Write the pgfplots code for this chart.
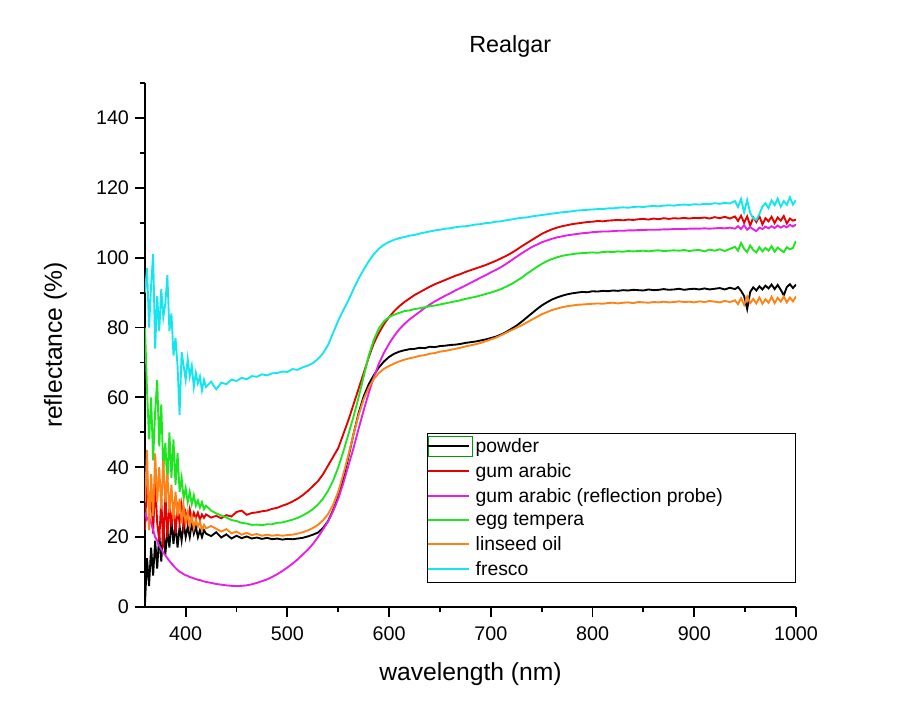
\documentclass[border=0pt]{standalone}
\usepackage{fontspec}
\setmainfont{Liberation Sans}
\usepackage{pgfplots}
\usepackage{pgfplotstable}
\pgfplotsset{compat=1.18}
\definecolor{cP}{HTML}{000000}
\definecolor{cR}{HTML}{E60000}
\definecolor{cM}{HTML}{E61EE6}
\definecolor{cE}{HTML}{1EE61E}
\definecolor{cL}{HTML}{FF8214}
\definecolor{cF}{HTML}{14E6F0}
\pgfplotsset{
  mylegline/.style={legend image code/.code={\draw[##1, line width=1.4pt] (0pt,0pt) -- (31pt,0pt);}},
  powderleg/.style={legend image code/.code={\draw[draw=green!60!black, line width=0.6pt] (0.3pt,-7.8pt) rectangle (33.5pt,7.8pt); \draw[##1, line width=1.4pt] (0pt,0pt) -- (31pt,0pt);}},
}
\pgfplotstableread{
x P R M E L F
360 1 22 27 80 30 90
362 14 38 25 62 45 97
364 6 28 26 48 22 80
366 17 34 24 60 38 92
368 9 21 22 42 26 101
370 19 36 20 56 44 74
372 11 24 19 65 30 89
374 21 19 17.5 46 40 79
376 13 31 16.5 58 28 91
378 23 17 15.5 39 42 83
380 15 33 14.8 47 30 87
382 22 20 14 35 38 95
384 17 29 13.2 50 27 79
386 25 23 12.5 37 35 84
388 18 30 11.8 48 25 72
390 24 21 11.2 35 33 77
392 17 28 10.6 44 26 69
394 23 24 10.1 33 31 55
396 19 29 9.8 37 24 73
398 24 23 9.4 31 29 69
400 20 27 9.1 34 24 65
402 23 24.5 8.9 30 27 71
404 20 28 8.6 33 23 66
406 24 25 8.4 29.5 26 69
408 21 27 8.2 32 22.5 63
410 23 25.5 8 29 25 67
412 20 27 7.8 30.5 23 64
414 22 25 7.7 28.5 24.5 66
416 20 26.5 7.5 30 22 62
418 22 25.5 7.3 28 23.5 65
420 21 26.5 7.2 29 22.5 63
425 20.3 25.6 6.9 27.6 23.2 64.5
430 21.4 26.1 6.6 26.8 22.4 62.3
435 19.9 25.4 6.4 26.2 21.6 64.2
440 20.8 26.3 6.2 25.6 22.3 63.8
445 19.6 25.9 6.05 24.9 21.1 65.1
450 20.4 27.2 6.0 24.6 21.6 64.7
455 19.7 27.6 6.05 24.1 20.7 65.6
460 20.2 26.4 6.2 23.9 21.2 65.2
465 19.6 26.9 6.5 23.5 20.6 66.1
470 19.9 27.1 6.9 23.6 20.9 65.9
475 19.5 27.4 7.4 23.4 20.4 66.6
480 19.8 27.6 7.9 23.7 20.7 66.3
485 19.4 28.1 8.6 23.7 20.4 66.9
490 19.6 28.4 9.4 24.1 20.6 67.0
495 19.3 29.0 10.3 24.2 20.4 67.4
500 19.5 29.5 11.3 24.6 20.6 67.3
505 19.4 30.2 12.4 25.0 20.7 68.1
510 19.6 31.0 13.6 25.5 21.0 67.9
515 19.8 32.0 15.0 26.2 21.4 68.6
520 20.2 33.2 16.4 27.0 21.9 69.1
525 20.7 34.6 18.0 28.0 22.6 69.8
530 21.3 36.0 20.0 29.3 23.5 71.0
535 22.6 38.0 22.2 31.0 24.8 72.6
540 24.6 40.5 24.5 33.3 26.6 75.0
545 27.8 43.0 27.5 36.2 29.3 78.5
550 31.5 45.5 31.0 40.0 33.0 82.0
555 37.0 49.5 35.5 44.5 38.0 85.0
560 43.0 53.5 40.5 49.5 43.5 87.8
565 49.5 58.0 45.5 54.5 49.5 91.0
570 55.5 62.5 51.0 60.0 55.0 94.0
575 60.3 67.0 56.3 66.0 59.5 96.6
580 63.8 71.5 61.3 72.0 62.8 99.0
585 66.4 75.5 65.8 76.5 65.3 101.0
590 68.6 78.5 69.7 79.8 67.0 102.6
595 70.3 81.0 72.8 81.8 68.2 103.7
600 71.6 83.0 75.4 83.0 69.0 104.5
605 72.5 84.7 77.6 83.7 69.7 105.1
610 73.1 86.1 79.5 84.2 70.3 105.6
615 73.5 87.3 81.0 84.7 70.8 105.9
620 73.8 88.3 82.3 84.9 71.2 106.3
625 73.9 89.3 83.4 85.3 71.5 106.5
630 74.2 90.1 84.5 85.5 71.9 106.9
635 74.1 90.9 85.6 85.8 72.1 107.2
640 74.5 91.7 86.6 86.1 72.5 107.5
645 74.4 92.4 87.5 86.3 72.7 107.8
650 74.7 93.0 88.3 86.6 73.1 108.0
655 74.8 93.6 89.1 86.9 73.3 108.3
660 75.0 94.2 89.8 87.2 73.6 108.4
665 75.1 94.8 90.6 87.5 73.9 108.7
670 75.3 95.3 91.3 87.8 74.2 108.9
675 75.6 95.9 92.0 88.2 74.6 109.0
680 75.8 96.4 92.8 88.5 74.9 109.2
685 76.0 96.9 93.5 88.8 75.2 109.5
690 76.3 97.4 94.3 89.2 75.6 109.6
695 76.6 97.9 95.0 89.6 76.1 109.9
700 77.0 98.5 95.8 90.0 76.6 110.0
705 77.4 99.1 96.5 90.5 77.1 110.3
710 78.0 99.8 97.3 91.0 77.8 110.4
715 78.7 100.5 98.2 91.7 78.5 110.7
720 79.6 101.3 99.2 92.4 79.2 110.9
725 80.5 102.2 100.2 93.3 79.9 111.2
730 81.6 103.2 101.2 94.2 80.6 111.4
735 82.8 104.1 102.1 95.3 81.4 111.5
740 84.0 105.0 103.0 96.3 82.2 111.8
745 85.2 105.9 103.7 97.3 83.0 112.0
750 86.3 106.8 104.4 98.2 83.8 112.2
755 87.2 107.5 104.9 99.0 84.4 112.4
760 88.0 108.1 105.4 99.6 85.0 112.6
765 88.6 108.6 105.8 100.1 85.4 112.8
770 89.1 109.0 106.1 100.5 85.8 113.0
775 89.5 109.3 106.4 100.8 86.1 113.1
780 89.8 109.6 106.6 101.0 86.3 113.3
785 90.0 109.8 106.8 101.2 86.5 113.5
790 90.2 110.0 107.0 101.3 86.6 113.6
795 90.1 110.2 107.1 101.4 86.7 113.7
800 90.4 110.3 107.3 101.5 86.8 113.8
805 90.3 110.5 107.4 101.4 86.9 113.9
810 90.5 110.4 107.5 101.6 86.8 113.9
815 90.4 110.6 107.5 101.7 87.0 114.1
820 90.6 110.7 107.6 101.6 87.1 114.1
825 90.5 110.8 107.7 101.8 86.9 114.3
830 90.7 110.7 107.7 101.7 87.1 114.4
835 90.6 110.9 107.8 101.9 87.2 114.3
840 90.8 110.8 107.8 101.8 87.0 114.5
845 90.7 111.0 107.9 101.9 87.3 114.6
850 90.6 111.1 107.9 102.0 87.2 114.5
855 90.9 110.9 108.0 101.8 87.1 114.7
860 90.7 111.2 108.0 102.0 87.3 114.8
865 90.8 111.0 108.0 102.1 87.2 114.7
870 91.0 111.3 108.1 101.9 87.4 114.9
875 90.8 111.1 108.1 102.0 87.2 115.0
880 90.9 111.3 108.2 102.1 87.3 114.9
885 91.1 111.2 108.2 102.0 87.5 115.1
890 90.8 111.4 108.2 102.2 87.3 115.2
895 91.0 111.2 108.3 101.9 87.4 115.1
900 91.1 111.4 108.3 102.1 87.2 115.3
905 90.9 111.3 108.3 102.2 87.5 115.2
910 91.2 111.5 108.4 101.8 87.3 115.4
915 90.9 111.2 108.3 102.3 87.6 115.3
920 91.1 111.6 108.4 102.0 87.4 115.6
925 91.3 111.3 108.5 102.4 87.2 115.4
930 90.9 111.7 108.4 101.9 87.6 115.7
935 91.4 111.2 108.6 102.5 87.3 115.5
940 91.0 111.8 108.3 103.1 87.8 116.2
943 91.6 110.5 109.0 102.0 86.7 114.5
946 90.5 112.0 108.2 104.2 88.4 116.8
949 89.0 110.0 109.3 102.5 86.5 113.0
952 85.3 111.8 108.0 101.6 88.9 116.5
955 90.2 109.2 108.8 103.5 87.0 112.8
958 91.5 111.5 108.1 102.2 88.2 111.2
961 90.6 110.2 107.6 101.5 86.9 110.8
964 91.8 111.9 108.6 103.0 88.6 112.5
967 90.9 109.5 108.2 101.8 86.8 114.6
970 92.0 111.3 108.9 102.8 88.1 115.6
973 91.2 110.4 108.4 102.0 87.1 114.2
976 92.3 111.7 109.0 103.3 88.8 116.4
979 91.0 109.9 108.5 101.7 87.0 115.0
982 92.2 111.5 109.2 102.9 88.5 116.9
985 90.8 110.6 108.6 102.2 87.4 114.6
988 89.2 111.9 109.1 101.6 88.9 116.2
991 91.6 109.8 108.7 103.0 87.2 115.1
994 92.4 111.2 109.4 102.4 88.6 117.3
997 91.3 110.6 108.9 102.8 87.5 115.2
1000 92.3 110.9 109.5 104.8 88.9 116.5
}\data
\begin{document}
\begin{tikzpicture}
\begin{axis}[
  at={(0,0)}, anchor=south west,
  scale only axis, width=488.25pt, height=393pt,
  xmin=360, xmax=1000, ymin=0, ymax=150,
  axis x line*=bottom, axis y line*=left,
  axis line style={line width=1.4pt, black},
  every tick/.style={line width=1.4pt, black},
  tick align=outside,
  major tick length=7.5pt, minor tick length=4pt,
  xtick={400,500,...,1000}, minor xtick={450,550,...,950},
  ytick={0,20,...,140}, minor ytick={10,30,...,150},
  /pgf/number format/assume math mode=true,
  /pgf/number format/1000 sep={},
  ticklabel style={font=\fontsize{14.8}{17}\selectfont},
  xticklabel style={yshift=-3.5pt},
  yticklabel style={xshift=-1pt},
  xlabel={wavelength (nm)}, ylabel={reflectance (\%)},
  label style={font=\fontsize{18.5}{22}\selectfont},
  xlabel style={at={([yshift=-54.75pt]axis description cs:0.5,0)}, anchor=base},
  ylabel style={at={([xshift=-62.25pt]axis description cs:0,0.5)}, anchor=base},
  title={Realgar},
  title style={at={([yshift=16.5pt]axis description cs:0.561,1)}, anchor=base, font=\fontsize{17.5}{21}\selectfont},
  mylegline,
  legend cell align=left,
  legend style={at={(axis cs:1000,49.9)}, anchor=north east, draw=black,
    font=\fontsize{14.5}{17}\selectfont, inner xsep=0pt, inner ysep=2pt, row sep=2.6pt, column sep=0pt},
  every axis plot/.append style={line width=1.4pt},
]
\addplot[cP, powderleg] table[x=x, y=P] {\data};
\addlegendentry{\makebox[238pt][l]{powder}}
\addplot[cR] table[x=x, y=R] {\data};
\addlegendentry{gum arabic}
\addplot[cM] table[x=x, y=M] {\data};
\addlegendentry{gum arabic (reflection probe)}
\addplot[cE] table[x=x, y=E] {\data};
\addlegendentry{egg tempera}
\addplot[cL] table[x=x, y=L] {\data};
\addlegendentry{linseed oil}
\addplot[cF] table[x=x, y=F] {\data};
\addlegendentry{fresco}
\end{axis}
\pgfresetboundingbox
\path (-108.75pt,-86.25pt) rectangle (578.25pt,455.25pt);
\end{tikzpicture}
\end{document}
